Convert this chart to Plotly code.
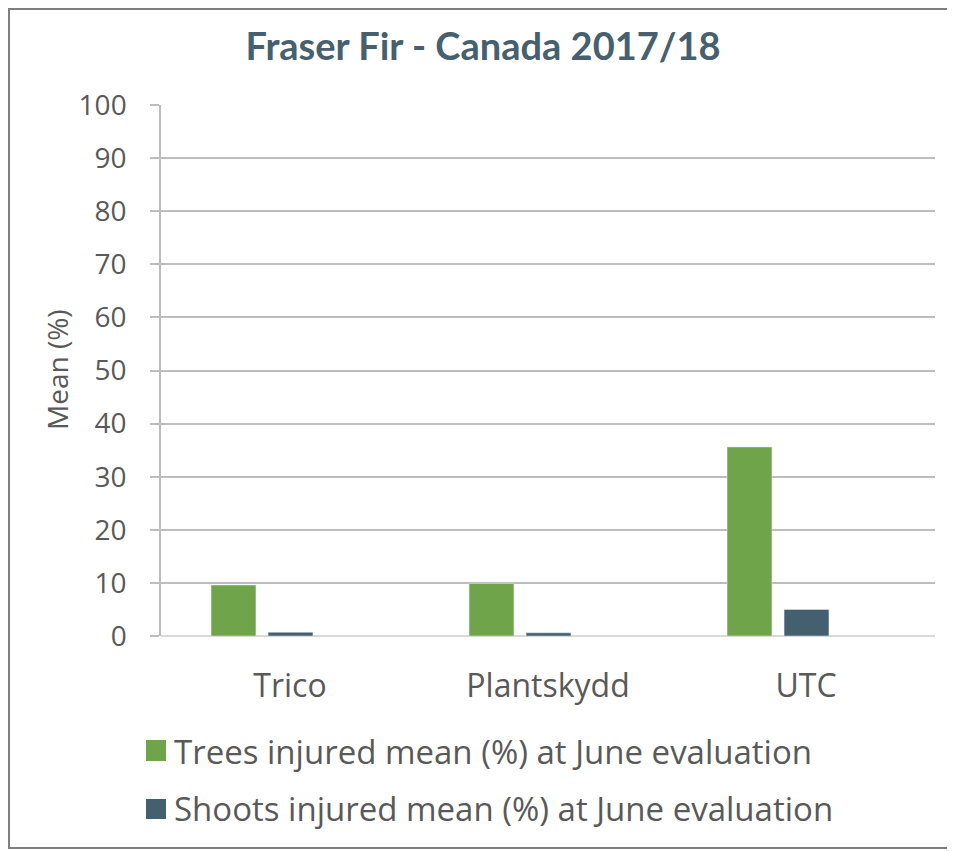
import plotly.graph_objects as go

categories = ['Trico', 'Plantskydd', 'UTC']
trees = [9.6, 9.9, 35.6]
shoots = [0.7, 0.6, 5.0]
series_names = ['Trees injured mean (%) at June evaluation',
                'Shoots injured mean (%) at June evaluation']
colors = ['#70A44A', '#44606E']
yticks = list(range(0, 101, 10))

# the page body has an 8px margin, so the figure starts at page (8, 8)
OFF = 8
W, H = 955 - OFF, 851 - OFF
# plot area in page pixels (from the reference)
L, R, T, B = 161, 935, 105, 636
def px(x):  # page pixel x -> paper
    return (x - L) / (R - L)
def py(y):  # page pixel y -> paper
    return (B - y) / (B - T)

txt = '#595959'
font = 'Open Sans'

fig = go.Figure()
fig.add_trace(go.Bar(x=categories, y=trees, name=series_names[0],
                     marker_color=colors[0], width=0.174, offset=-0.306,
                     showlegend=False))
fig.add_trace(go.Bar(x=categories, y=shoots, name=series_names[1],
                     marker_color=colors[1], width=0.174, offset=-0.085,
                     showlegend=False))

fig.update_layout(
    width=W, height=H,
    margin=dict(l=L - OFF, r=W - (R - OFF), t=T - OFF, b=H - (B - OFF)),
    plot_bgcolor='white', paper_bgcolor='white',
    barmode='overlay',
    title=dict(text='<b>Fraser Fir - Canada 2017/18</b>', x=(483 - OFF) / W, xanchor='center',
               y=1 - (47 - OFF) / H, yanchor='middle',
               font=dict(family='Lato', size=38, color='#46606F')),
)
fig.update_xaxes(range=[-0.5, 2.5], showgrid=False, showline=False, ticks='',
                 tickfont=dict(family=font, size=32, color=txt),
                 ticklabelstandoff=28)
fig.update_yaxes(range=[0, 100], tickvals=yticks, showgrid=True, gridcolor='#BDBDBD',
                 gridwidth=1.5, zeroline=True, zerolinecolor='#D9D9D9', zerolinewidth=2,
                 showline=True, linecolor='#BDBDBD', linewidth=1.5,
                 ticks='outside', ticklen=9, tickcolor='#BDBDBD', tickwidth=1.5,
                 tickfont=dict(family=font, size=28, color=txt),
                 ticklabelstandoff=18)

# y axis title
fig.add_annotation(text='Mean (%)', x=px(57), y=py(370), xref='paper', yref='paper',
                   xanchor='center', yanchor='middle',
                   textangle=-90, showarrow=False,
                   font=dict(family=font, size=28, color=txt))

# legend drawn below the plot
leg = [(740, 761, 751), (799, 819, 808)]
for i, (y0, y1, yc) in enumerate(leg):
    fig.add_shape(type='rect', xref='paper', yref='paper',
                  x0=px(146), x1=px(166), y0=py(y1), y1=py(y0),
                  fillcolor=colors[i], line_width=0)
    fig.add_annotation(text=series_names[i], x=px(172), y=py(yc), xref='paper', yref='paper',
                       xanchor='left', yanchor='middle', showarrow=False,
                       font=dict(family=font, size=33, color=txt))

# outer border
fig.add_shape(type='rect', xref='paper', yref='paper',
              x0=px(9), x1=px(951), y0=py(848), y1=py(9),
              line=dict(color='#7F7F7F', width=2), fillcolor='rgba(0,0,0,0)')

fig.write_html('out.html')
